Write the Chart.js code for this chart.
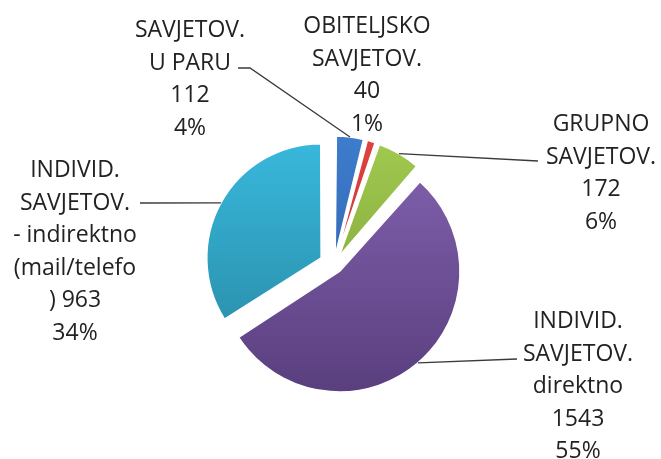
<!DOCTYPE html>
<html>
<head>
<meta charset="utf-8">
<script src="https://cdn.jsdelivr.net/npm/chart.js@4/dist/chart.umd.min.js"></script>
<style>
  body { margin: 0; background: #ffffff; }
</style>
</head>
<body>
<canvas id="pie" width="661" height="459"></canvas>
<script>
// Data -------------------------------------------------------------
const categories = ["SAVJETOV. U PARU", "OBITELJSKO SAVJETOV.", "GRUPNO SAVJETOV.", "INDIVID. SAVJETOV. direktno", "INDIVID. SAVJETOV. - indirektno (mail/telefon)"];
const counts = [112, 40, 172, 1543, 963];

// Category text as it is wrapped in the picture
const labelNames = [
    ["SAVJETOV.", "U PARU"],
    ["OBITELJSKO", "SAVJETOV."],
    ["GRUPNO", "SAVJETOV."],
    ["INDIVID.", "SAVJETOV.", "direktno"],
    ["INDIVID.", "SAVJETOV.", "- indirektno", "(mail/telefo", ")"]
];
// The last one has its value on the same line as the broken word
const valueOnLastLine = [false, false, false, false, true];

// Style ------------------------------------------------------------
const topColors = ["#3d7bcb", "#dc4240", "#a0c94f", "#8060ad", "#38b7db"];
const bottomColors = ["#2d5fa6", "#b83030", "#7a9c36", "#5b4080", "#2889a4"];
const pieRadius = 112;
const sliceShift = 17;   // how far every slice is pulled out
const lineHeight = 32.5;

// Where the labels sit, and the bends of their leader lines
const labelPlaces = [
    {x: 190, y: 29, leader: [[250, 68], [238, 68]]},
    {x: 367, y: 25, leader: null},
    {x: 601, y: 123, leader: [[538, 161]]},
    {x: 578, y: 320, leader: [[517, 359]]},
    {x: 75, y: 169, leader: [[140, 203]]}
];

let total = counts.reduce((a, b) => a + b, 0);

// Vertical gradient over the whole pie for each slice
function sliceFill(context) {
    let chart = context.chart;
    let area = chart.chartArea;
    let i = context.dataIndex;
    if (!area) {
        return topColors[i];
    }
    let cy = (area.top + area.bottom) / 2;
    let g = chart.ctx.createLinearGradient(0, cy - pieRadius, 0, cy + pieRadius);
    g.addColorStop(0, topColors[i]);
    g.addColorStop(1, bottomColors[i]);
    return g;
}

// Chart.js moves small slices further than big ones, so even it out
function sliceOffset(context) {
    let circ = counts[context.dataIndex] / total * Math.PI * 2;
    let fix = 1 - Math.sin(Math.min(Math.PI, circ));
    return sliceShift * 4 / (1 + fix);
}

// Labels with value and percent, plus leader lines
const labelPlugin = {
    id: 'sliceLabels',
    afterDatasetsDraw(chart) {
        let ctx = chart.ctx;
        let meta = chart.getDatasetMeta(0);
        ctx.save();
        ctx.font = '23px "Open Sans"';
        ctx.fillStyle = '#222222';
        ctx.strokeStyle = '#3a3a3a';
        ctx.lineWidth = 1.3;
        ctx.textAlign = 'center';
        ctx.textBaseline = 'alphabetic';

        meta.data.forEach(function (arc, i) {
            let place = labelPlaces[i];

            if (place.leader) {
                let mid = (arc.startAngle + arc.endAngle) / 2;
                let r = arc.outerRadius + sliceShift;
                ctx.beginPath();
                ctx.moveTo(arc.x + Math.cos(mid) * r, arc.y + Math.sin(mid) * r);
                place.leader.forEach(function (p) { ctx.lineTo(p[0], p[1]); });
                ctx.stroke();
            }

            let lines = labelNames[i].slice();
            if (valueOnLastLine[i]) {
                lines[lines.length - 1] += " " + counts[i];
            } else {
                lines.push(String(counts[i]));
            }
            lines.push(Math.round(counts[i] / total * 100) + "%");

            lines.forEach(function (text, k) {
                ctx.fillText(text, place.x, place.y + k * lineHeight + 8);
            });
        });
        ctx.restore();
    }
};

let canvas = document.getElementById('pie').getContext("2d");

let pieChart = new Chart(canvas, {
    type: 'pie',
    data: {
        labels: categories,
        datasets: [{
            data: counts,
            backgroundColor: sliceFill,
            borderColor: '#ffffff',
            borderWidth: 1.5,
            offset: sliceOffset,
            hoverOffset: 0,
            radius: pieRadius
        }]
    },
    options: {
        responsive: false,
        animation: false,
        layout: {padding: {left: 7, right: 0, top: 71, bottom: 0}},
        plugins: {
            legend: {display: false},
            tooltip: {enabled: false}
        }
    },
    plugins: [labelPlugin]
});
</script>
</body>
</html>
